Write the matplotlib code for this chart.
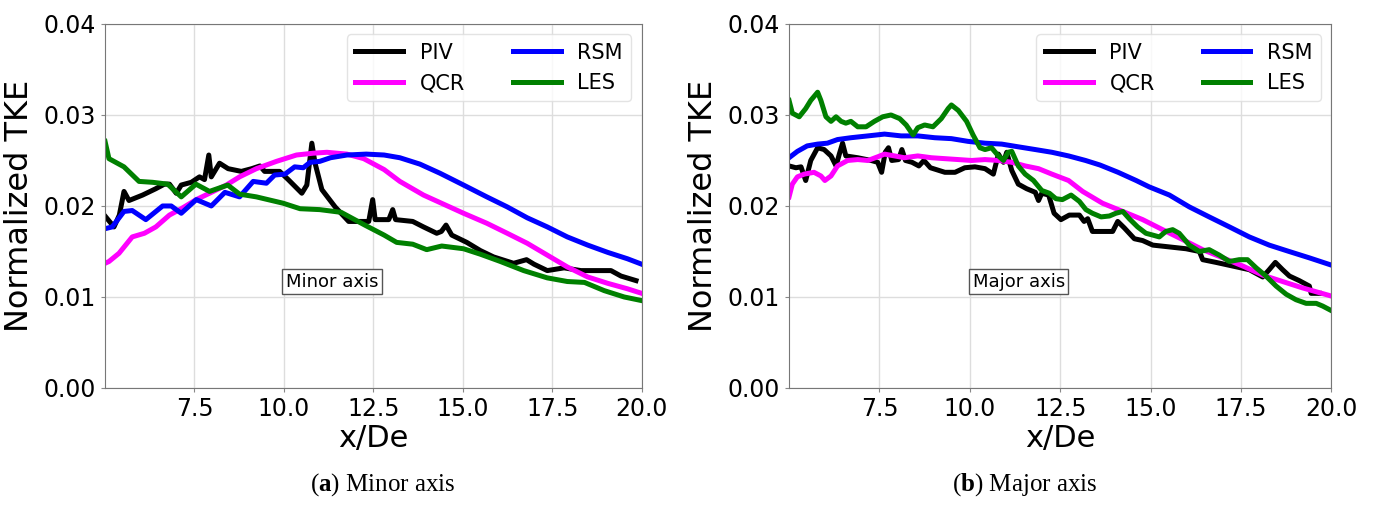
import matplotlib
matplotlib.use("Agg")
import matplotlib.pyplot as plt

plt.rcParams["mathtext.fontset"] = "custom"
plt.rcParams["mathtext.rm"] = "Liberation Serif"
plt.rcParams["mathtext.bf"] = "Liberation Serif:bold"

# ---- minor axis ----
minor_piv_x = [5.02, 5.25, 5.4, 5.53, 5.67, 6.05, 6.42, 6.66, 6.8, 6.99,
               7.13, 7.41, 7.64, 7.78, 7.9, 7.97, 8.2, 8.44, 8.81, 9.1,
               9.33, 9.46, 9.88, 10.12, 10.5, 10.64, 10.78, 10.87, 11.06, 11.43,
               11.81, 12.37, 12.48, 12.55, 12.93, 13.04, 13.12, 13.6, 13.9, 14.27,
               14.4, 14.53, 14.69, 15.11, 15.49, 15.86, 16.42, 16.78, 16.99, 17.36,
               17.83, 18.3, 19.14, 19.42, 19.84]
minor_piv_y = [.0188, .0177, .0190, .0216, .0206, .0212, .0219, .0224, .0224, .0214,
               .0223, .0226, .0232, .0229, .0256, .0232, .0247, .0241, .0238, .0241,
               .0244, .0238, .0238, .0229, .0214, .0223, .0269, .0247, .0218, .0199,
               .0183, .0183, .0207, .0185, .0185, .0196, .0185, .0183, .0177, .0170,
               .0172, .0179, .0168, .0160, .0151, .0144, .0137, .0141, .0136, .0129,
               .0132, .0129, .0129, .0123, .0118]

minor_qcr_x = [5.0, 5.11, 5.39, 5.76, 6.1, 6.42, 6.8, 7.13, 7.55, 7.92,
               8.39, 8.76, 9.23, 9.79, 10.35, 10.82, 11.2, 11.76, 12.23, 12.8,
               13.24, 13.9, 14.46, 15.02, 15.67, 16.24, 16.8, 17.36, 17.92, 18.49,
               19.05, 19.6, 20.0]
minor_qcr_y = [.0137, .0139, .0148, .0166, .0170, .0177, .0190, .0197, .0207, .0214,
               .0223, .0232, .0241, .0249, .0256, .0258, .0259, .0257, .0252, .0240,
               .0227, .0212, .0202, .0192, .0181, .0170, .0159, .0146, .0133, .0122,
               .0115, .0109, .0104]

minor_rsm_x = [5.0, 5.2, 5.53, 5.76, 6.14, 6.61, 6.85, 7.13, 7.55, 7.97,
               8.35, 8.76, 9.14, 9.51, 9.74, 10.03, 10.3, 10.54, 10.73, 11.0,
               11.3, 11.76, 12.3, 12.8, 13.24, 13.8, 14.36, 15.02, 15.67, 16.24,
               16.8, 17.36, 17.92, 18.49, 19.05, 19.6, 20.0]
minor_rsm_y = [.0175, .0177, .0194, .0195, .0185, .0200, .0200, .0192, .0207, .0200,
               .0215, .0210, .0227, .0225, .0234, .0235, .0243, .0242, .0248, .0249,
               .0253, .0256, .0257, .0256, .0253, .0246, .0236, .0223, .0210, .0199,
               .0187, .0177, .0166, .0157, .0149, .0142, .0136]

minor_les_x = [5.0, 5.11, 5.53, 5.95, 6.33, 6.75, 7.13, 7.54, 7.92, 8.43,
               8.76, 9.23, 9.98, 10.45, 11.0, 11.6, 12.26, 12.8, 13.15, 13.6,
               13.99, 14.41, 15.02, 15.49, 16.05, 16.7, 17.36, 17.92, 18.4, 18.95,
               19.51, 20.0]
minor_les_y = [.0271, .0252, .0243, .0227, .0226, .0224, .0210, .0224, .0216, .0223,
               .0213, .0210, .0203, .0197, .0196, .0193, .0179, .0168, .0160, .0158,
               .0152, .0156, .0153, .0147, .0139, .0129, .0121, .0117, .0116, .0107,
               .0100, .0096]

# ---- major axis ----
major_piv_x = [5.0, 5.19, 5.33, 5.46, 5.6, 5.79, 5.97, 6.16, 6.3, 6.39,
               6.48, 6.57, 6.9, 7.27, 7.45, 7.56, 7.66, 7.75, 7.84, 8.03,
               8.12, 8.22, 8.4, 8.59, 8.73, 8.91, 9.31, 9.59, 9.86, 10.14,
               10.42, 10.65, 10.79, 10.93, 11.02, 11.16, 11.34, 11.57, 11.81, 11.9,
               11.99, 12.18, 12.33, 12.52, 12.75, 13.03, 13.16, 13.26, 13.39, 13.67,
               13.95, 14.09, 14.27, 14.55, 14.78, 15.06, 15.52, 15.98, 16.35, 16.44,
               16.81, 17.27, 17.73, 18.1, 18.28, 18.45, 18.65, 18.84, 19.11, 19.39,
               19.44, 19.67]
major_piv_y = [.0244, .0242, .0243, .0228, .0250, .0264, .0262, .0255, .0244, .0257,
               .0269, .0255, .0253, .0250, .0248, .0237, .0259, .0264, .0250, .0251,
               .0262, .0250, .0248, .0244, .0250, .0242, .0237, .0237, .0242, .0243,
               .0241, .0235, .0257, .0248, .0259, .0239, .0224, .0219, .0215, .0206,
               .0214, .0212, .0192, .0185, .0190, .0190, .0183, .0186, .0172, .0172,
               .0172, .0183, .0176, .0164, .0162, .0157, .0155, .0153, .0150, .0141,
               .0138, .0134, .0130, .0122, .0130, .0138, .0130, .0123, .0118, .0112,
               .0104, .0104]

major_qcr_x = [5.0, 5.09, 5.23, 5.42, 5.69, 5.88, 5.99, 6.16, 6.34, 6.62,
               6.9, 7.18, 7.45, 7.64, 7.92, 8.19, 8.56, 8.94, 9.31, 9.68,
               10.05, 10.42, 10.79, 11.16, 11.53, 11.9, 12.27, 12.73, 13.12, 13.67,
               14.23, 14.78, 15.33, 15.89, 16.44, 17.0, 17.55, 18.1, 18.65, 19.2,
               20.0]
major_qcr_y = [.0210, .0224, .0232, .0235, .0237, .0233, .0228, .0233, .0244, .0250,
               .0251, .0250, .0254, .0257, .0255, .0253, .0255, .0253, .0252, .0251,
               .0250, .0251, .0250, .0248, .0244, .0241, .0235, .0228, .0216, .0203,
               .0194, .0185, .0174, .0163, .0152, .0143, .0134, .0124, .0117, .0110,
               .0101]

major_rsm_x = [5.0, 5.23, 5.5, 5.79, 6.06, 6.34, 6.71, 7.18, 7.64, 8.1,
               8.56, 9.03, 9.49, 9.95, 10.42, 10.88, 11.34, 11.81, 12.27, 12.73,
               13.2, 13.6, 14.1, 14.6, 14.96, 15.52, 16.07, 16.62, 17.18, 17.73,
               18.28, 18.83, 19.39, 20.0]
major_rsm_y = [.0253, .0260, .0266, .0268, .0269, .0273, .0275, .0277, .0279, .0277,
               .0277, .0275, .0274, .0271, .0269, .0268, .0265, .0262, .0259, .0255,
               .0250, .0245, .0237, .0228, .0221, .0212, .0199, .0188, .0177, .0166,
               .0157, .0150, .0143, .0135]

major_les_x = [5.0, 5.09, 5.28, 5.46, 5.6, 5.79, 5.88, 6.02, 6.16, 6.3,
               6.44, 6.57, 6.71, 6.9, 7.13, 7.36, 7.59, 7.82, 8.06, 8.24,
               8.43, 8.56, 8.75, 8.98, 9.21, 9.4, 9.49, 9.68, 9.91, 10.09,
               10.28, 10.42, 10.6, 10.79, 10.93, 11.06, 11.16, 11.34, 11.53, 11.76,
               11.99, 12.2, 12.38, 12.56, 12.8, 13.03, 13.21, 13.39, 13.63, 13.86,
               14.04, 14.23, 14.41, 14.64, 14.87, 15.06, 15.24, 15.42, 15.61, 15.79,
               16.07, 16.35, 16.62, 16.9, 17.18, 17.45, 17.68, 17.92, 18.19, 18.47,
               18.75, 19.02, 19.3, 19.58, 19.76, 20.0]
major_les_y = [.0316, .0302, .0298, .0307, .0316, .0325, .0316, .0298, .0293, .0298,
               .0293, .0291, .0293, .0287, .0287, .0293, .0298, .0300, .0296, .0289,
               .0278, .0286, .0289, .0287, .0296, .0307, .0311, .0305, .0293, .0278,
               .0264, .0262, .0264, .0255, .0250, .0259, .0260, .0244, .0235, .0228,
               .0217, .0214, .0208, .0207, .0212, .0205, .0196, .0192, .0188, .0189,
               .0192, .0194, .0186, .0177, .0170, .0168, .0166, .0172, .0174, .0170,
               .0157, .0150, .0152, .0146, .0139, .0141, .0141, .0132, .0123, .0112,
               .0103, .0097, .0093, .0093, .0090, .0085]

labels = ["PIV", "QCR", "RSM", "LES"]
colors = ["black", "magenta", "blue", "green"]
x_ticks = [7.5, 10.0, 12.5, 15.0, 17.5, 20.0]
y_ticks = [0.00, 0.01, 0.02, 0.03, 0.04]


def draw_panel(ax, series, tag):
    for (xs, ys), lab, col in zip(series, labels, colors):
        ax.plot(xs, ys, color=col, lw=3.6, label=lab)
    ax.set_xlim(5, 20)
    ax.set_ylim(0, 0.04)
    ax.set_xticks(x_ticks)
    ax.set_yticks(y_ticks)
    ax.set_xticklabels([f"{v:.1f}" for v in x_ticks])
    ax.set_yticklabels([f"{v:.2f}" for v in y_ticks])
    ax.tick_params(labelsize=17, color="#888888", length=3)
    ax.grid(True, color="#dddddd", lw=1)
    ax.set_axisbelow(True)
    for s in ax.spines.values():
        s.set_color("#777777")
    ax.set_xlabel("x/De", fontsize=22, labelpad=2)
    ax.set_ylabel("Normalized TKE", fontsize=23, labelpad=6)
    ax.legend(ncol=2, fontsize=15, loc="upper right", handlelength=2.3,
              columnspacing=2.3, handletextpad=0.8, edgecolor="#dddddd")
    ax.text(11.35, 0.0117, tag, fontsize=13, ha="center", va="center",
            bbox=dict(boxstyle="square,pad=0.2", facecolor="white",
                      edgecolor="#555555", lw=1))


fig = plt.figure(figsize=(13.73, 5.21), dpi=100)
ax1 = fig.add_axes([0.0765, 0.2553, 0.3909, 0.6987])
ax2 = fig.add_axes([0.5747, 0.2553, 0.3950, 0.6987])

draw_panel(ax1, [(minor_piv_x, minor_piv_y), (minor_qcr_x, minor_qcr_y),
                 (minor_rsm_x, minor_rsm_y), (minor_les_x, minor_les_y)], "Minor axis")
draw_panel(ax2, [(major_piv_x, major_piv_y), (major_qcr_x, major_qcr_y),
                 (major_rsm_x, major_rsm_y), (major_les_x, major_les_y)], "Major axis")

fig.text(0.279, 0.069, r"($\mathbf{a}$) Minor axis", ha="center", va="center",
         fontsize=18, family="Liberation Serif")
fig.text(0.746, 0.069, r"($\mathbf{b}$) Major axis", ha="center", va="center",
         fontsize=18, family="Liberation Serif")

fig.savefig("out.png", dpi=100)
